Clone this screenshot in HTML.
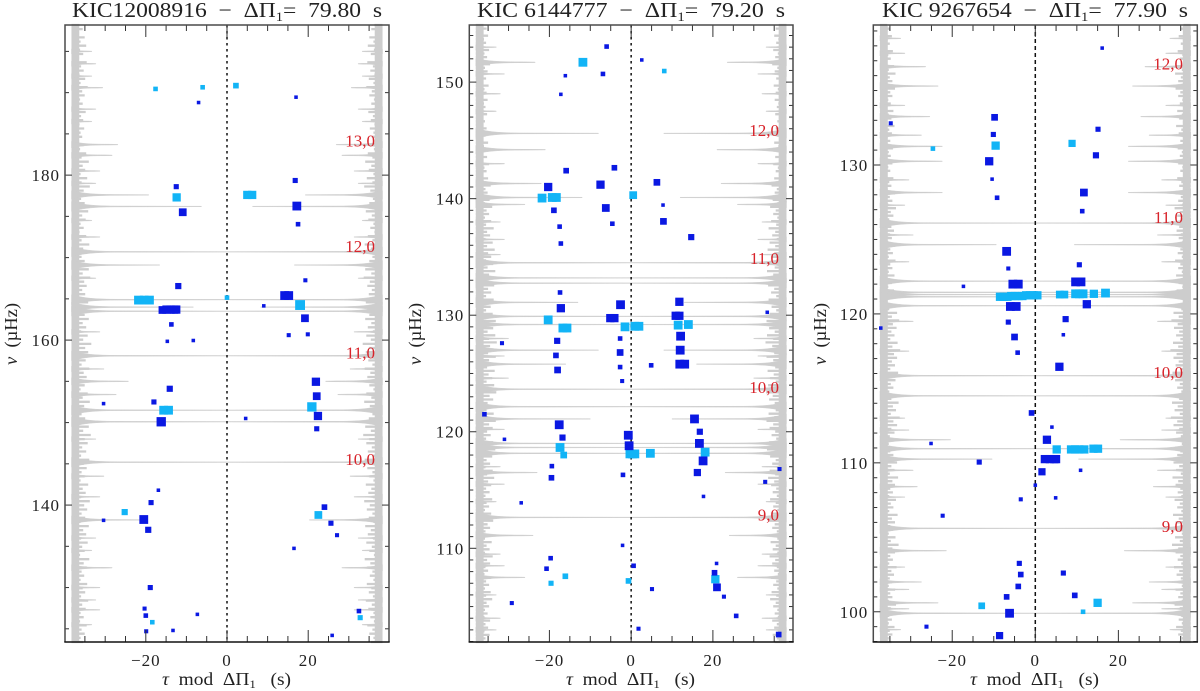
<!DOCTYPE html>
<html lang="en">
<head>
<meta charset="utf-8">
<title>Stretched period echelle diagrams</title>
<style>
html,body{margin:0;padding:0;background:#fff;width:1200px;height:691px;overflow:hidden}
svg{display:block}
text{font-family:"Liberation Serif","DejaVu Serif",serif;fill:#222}
.title{font-size:21px}
.axis-title{font-size:18px}
.tick-label{font-size:17px;letter-spacing:1px}
.order-label{font-size:17px;fill:#d8232a}
</style>
</head>
<body>
<svg id="chart" xmlns="http://www.w3.org/2000/svg" width="1200" height="691" viewBox="0 0 1200 691">
  <rect x="0" y="0" width="1200" height="691" fill="#fff"/>
  <g id="layer-a"></g>
  <g id="layer-b"></g>
  <g id="layer-c"></g>

  <text class="title" x="72" y="17" textLength="310" lengthAdjust="spacingAndGlyphs">KIC12008916&#160;&#160;−&#160;&#160;ΔΠ<tspan dy="4" font-size="13">1</tspan><tspan dy="-4">=&#160;&#160;79.80&#160;&#160;s</tspan></text>
  <text class="title" x="477" y="17" textLength="308" lengthAdjust="spacingAndGlyphs">KIC&#160;6144777&#160;&#160;−&#160;&#160;ΔΠ<tspan dy="4" font-size="13">1</tspan><tspan dy="-4">=&#160;&#160;79.20&#160;&#160;s</tspan></text>
  <text class="title" x="882" y="17" textLength="306" lengthAdjust="spacingAndGlyphs">KIC&#160;9267654&#160;&#160;−&#160;&#160;ΔΠ<tspan dy="4" font-size="13">1</tspan><tspan dy="-4">=&#160;&#160;77.90&#160;&#160;s</tspan></text>

  <text class="axis-title" x="162" y="685" textLength="129" lengthAdjust="spacingAndGlyphs"><tspan font-style="italic">τ</tspan>&#160;&#160;mod&#160;&#160;ΔΠ<tspan dy="3" font-size="12">1</tspan><tspan dy="-3">&#160;&#160;&#160;(s)</tspan></text>
  <text class="axis-title" x="566" y="685" textLength="129" lengthAdjust="spacingAndGlyphs"><tspan font-style="italic">τ</tspan>&#160;&#160;mod&#160;&#160;ΔΠ<tspan dy="3" font-size="12">1</tspan><tspan dy="-3">&#160;&#160;&#160;(s)</tspan></text>
  <text class="axis-title" x="970" y="685" textLength="129" lengthAdjust="spacingAndGlyphs"><tspan font-style="italic">τ</tspan>&#160;&#160;mod&#160;&#160;ΔΠ<tspan dy="3" font-size="12">1</tspan><tspan dy="-3">&#160;&#160;&#160;(s)</tspan></text>

  <text class="axis-title" transform="translate(17,365) rotate(-90)" textLength="62" lengthAdjust="spacingAndGlyphs"><tspan font-style="italic">ν</tspan>&#160;&#160;(µHz)</text>
  <text class="axis-title" transform="translate(421,365) rotate(-90)" textLength="62" lengthAdjust="spacingAndGlyphs"><tspan font-style="italic">ν</tspan>&#160;&#160;(µHz)</text>
  <text class="axis-title" transform="translate(826,365) rotate(-90)" textLength="62" lengthAdjust="spacingAndGlyphs"><tspan font-style="italic">ν</tspan>&#160;&#160;(µHz)</text>
</svg>

<script>
/* Shared x ticks (seconds) */
var xMajorTickValues = [-20, 0, 20];
var xMajorTickLabels = ['\u221220', '0', '20'];

/* ---------- Panel A: KIC 12008916 ---------- */
var aYTickValues = [180, 160, 140];
var aYTickLabels = ['180', '160', '140'];
var aOrderLabels = ['13,0', '12,0', '11,0', '10,0'];
var aOrderNu = [184.2, 171.4, 158.5, 145.6];

var aBlueTau = [17.0,-7.0,-12.5,16.8,-10.9,17.2,17.5,-12.0,19.3,14.2,15.2,-15.9,-14.9,-13.9,-13.0,-12.5,9.06,19.2,-13.7,15.2,19.9,-14.7,-8.3,21.9,22.1,-14.1,-18.0,-30.4,22.4,-16.2,4.6,22.1,-16.9,-18.7,24.0,-20.5,-30.4,25.6,-19.4,27.1,16.5,-18.9,-20.3,32.5,-20.0,-7.3,-19.9,-13.3,25.9];
var aBlueNu = [189.45,188.8,178.6,179.35,175.5,176.25,174.05,166.55,167.25,165.4,165.4,163.65,163.7,163.7,163.7,163.7,164.15,162.65,161.9,160.6,160.7,159.85,159.95,154.95,153.2,154.1,152.5,152.3,150.8,150.1,150.5,149.25,141.8,140.3,139.75,138.25,138.15,137.8,137.0,136.35,134.75,130.0,127.45,127.15,126.6,126.75,124.7,124.8,124.2];
var aBlueHeight = [3,3,4.5,4.5,7,8,4,5.5,3.5,8,8,7,7.5,7.5,7.5,7.5,3,7,4,3.5,3.5,3,3,7.5,7,5.5,4.5,3,7.5,8.5,3,4.5,3,4.5,5,8,3,4.5,5.5,3.5,3,4.5,3.5,4,4,3,3.5,3,3];

var aCyanTau = [-17.6,-6.0,2.2,-12.4,5.0,6.2,-21.8,-20.4,-19.1,0.0,18.0,-15.6,-14.4,20.9,-25.2,22.5,-18.4,32.8];
var aCyanNu = [190.45,190.65,190.85,177.3,177.6,177.6,164.85,164.85,164.85,165.15,164.25,151.5,151.5,151.9,139.15,138.8,125.8,126.35];
var aCyanHeight = [4,4,5,7.5,7.5,7.5,8,8,8,4,9,8,8,8.5,5.5,7,4,4.5];

var aPeakNu = [190.6,183.7,182.4,177.6,176.2,170.7,169.1,164.9,164.0,163.5,158.1,155.0,153.4,151.5,150.1,145.2,143.5,138.2,132.4,130.0,127.3,195,193.5,192,188,186.5,180.5,179,174.5,172.5,167.5,161,156.5,148,141,136,134.5,128.5,125.5];
var aPeakAmp = [7.7,11.4,10,19,32,38.3,21.7,38.3,30,38.3,38.3,14,11,38.3,38.3,38.3,8,18,10,7,7,5,6,5,6,5,7,6,5,7,6,7,8,6,7,6,5,6,5];

var aBase = [1.6,2.2,1.5,2.6,1.8,2.9,1.7,2.3,1.5,3.0,1.9,2.4,1.6,2.7,1.8,3.2,2.1,2.6,1.7,2.2,1.5,2.8,1.9,2.3,1.6,2.5,1.8,2.1,1.5,2.4,1.7,2.9,2.0,3.4,2.2,2.7,1.8,3.1,2.0,3.6,2.4,3.0,1.9,2.6,1.7,3.3,2.1,2.8,1.8,2.4,1.6,2.9,2.0,3.5,2.3,3.1,2.0,2.6,1.8,3.4,2.2,3.7,2.5,3.0,2.1,2.7,1.9,3.3,2.4,3.8,2.6,3.4,2.2,2.9,1.9,3.2,2.3,3.9,2.7,3.3,2.1,2.8,2.0,3.5,2.4,3.0,2.0,2.6,1.8,3.2,2.2,3.6,2.5,3.1,2.0,2.7,1.9,3.4,2.3,3.8,2.6,3.2,2.1,2.9,1.9,3.5,2.4,3.0,2.0,2.6,1.8,3.3,2.2,2.8,1.9,3.6,2.5,3.1,2.0,2.7,1.8,3.4,2.3,2.9,1.9,3.2,2.1,2.6,1.7,3.5,2.4,3.0,2.0,2.5,1.8,3.1,2.2,2.7,1.9,3.3,2.1,2.8,1.8,2.4,1.7,3.0,2.0,2.6,1.8,2.3];

/* ---------- Panel B: KIC 6144777 ---------- */
var bYTickValues = [150, 140, 130, 120, 110];
var bYTickLabels = ['150', '140', '130', '120', '110'];
var bOrderLabels = ['12,0', '11,0', '10,0', '9,0'];
var bOrderNu = [145.9, 134.9, 123.85, 112.9];

var bBlueTau = [-6.0,2.6,-6.9,-16.1,-17.2,-15.9,-4.1,-20.3,-7.5,6.3,-18.9,-6.2,7.8,-17.5,-4.6,7.9,14.7,-17.2,-17.4,-17.2,-2.6,11.8,-5.1,-4.1,10.9,11.8,33.3,12.1,-18.1,-2.7,-31.6,-18.4,-18.0,-2.7,-2.7,-2.2,4.9,12.0,11.9,13.1,-35.9,-31.0,-17.6,-16.8,-0.7,-0.5,15.5,16.8,16.7,17.6,16.2,-19.4,-19.5,-2.0,36.3,32.8,17.7,-26.9,-2.1,-19.7,20.9,0.6,-20.7,20.4,21.0,5.1,22.7,-29.2,25.7,1.8,36.1];
var bBlueNu = [153.05,151.9,150.7,150.55,148.95,142.4,142.65,141.0,141.2,141.4,139.0,139.2,139.45,137.6,137.85,138.05,136.7,136.15,131.95,130.6,130.9,131.15,129.75,129.75,129.95,129.95,130.25,128.2,127.8,128.0,127.6,126.55,125.3,126.8,125.55,124.35,125.7,127.0,125.8,125.8,121.5,119.35,120.6,119.5,119.7,118.8,121.1,120.0,119.0,117.5,116.5,117.05,116.05,116.3,116.8,115.7,114.45,113.9,110.25,109.15,108.7,108.5,108.25,107.9,106.65,106.5,105.85,105.3,104.2,103.1,102.6];
var bBlueHeight = [4,3,4,3,3,5,5,7.5,7.5,6,5,7,3,4,4,6,5.5,4,4,7.5,8,7.5,7.5,7.5,7.5,7.5,3,8,5.5,4,3.5,5,6,6,4,3.5,4,8,8,8,4,3,8,5.5,8,8,8,5.5,8,8,6.5,4,5,4,3.5,3.5,3,3,3,4,3,4,4,5,7,3.5,3.5,3.5,4,3.5,5];

var bCyanTau = [-11.8,8.1,-21.8,-19.3,-18.3,0.5,-20.3,-16.7,-15.7,-1.5,0.9,1.9,11.5,14.0,-17.4,-16.5,-0.3,0.3,0.9,4.7,18.1,-16.1,-19.6,-0.65,20.6];
var bCyanNu = [151.7,150.95,140.05,140.1,140.1,140.3,129.6,128.9,128.9,129.0,129.05,129.05,129.15,129.2,118.65,118.0,118.1,118.1,118.1,118.15,118.25,107.6,107.0,107.2,107.35];
var bCyanHeight = [8,4,8,8,8,7,8,8,8,8,8,8,8,8,8,6,8,8,8,8,8,5,4.5,5,7.5];

var bPeakNu = [151.7,150.7,145.6,144.2,141.3,140.1,139.5,134.5,133.2,132.75,131.1,129.9,129.2,127.0,125.8,123.65,122.15,121.1,119.0,118.65,118.15,116.5,112.65,111.1,107.5,153,149,147.5,143,138,136.5,135.2,128,126.5,124.6,120.2,117,115.5,114,109.5,108.5,106,104,103];
var bPeakAmp = [14.5,7,30,17,16,26,12,38,38,38,25,38,38,30,22,38,38,28,38,38,38,15,38,14,12,5,6,5,7,6,7,6,8,7,8,7,6,7,5,6,7,5,6,5];

var bBase = [1.5,2.1,1.4,2.4,1.6,2.0,1.4,2.6,1.7,2.2,1.5,2.8,1.8,2.3,1.5,2.0,1.4,2.5,1.7,2.1,1.5,2.3,1.6,1.9,1.4,2.2,1.5,1.8,1.4,2.1,1.5,1.9,1.3,2.4,1.6,2.0,1.4,2.2,1.5,2.6,1.7,2.1,1.5,2.4,1.6,2.9,1.9,2.3,1.6,2.7,1.8,3.2,2.1,2.6,1.8,3.0,2.0,3.5,2.2,2.8,1.9,3.3,2.2,3.7,2.4,3.0,2.0,3.4,2.3,3.8,2.6,3.2,2.1,3.6,2.4,3.0,2.0,3.5,2.3,2.9,2.0,3.3,2.2,3.9,2.6,3.4,2.3,3.8,2.6,4.1,2.8,3.5,2.4,3.9,2.6,3.3,2.2,3.7,2.5,3.2,2.1,3.6,2.4,4.0,2.7,3.4,2.3,3.0,2.1,3.5,2.4,3.9,2.6,3.3,2.2,2.9,2.0,3.4,2.3,3.8,2.5,3.2,2.1,2.8,1.9,3.3,2.2,3.6,2.4,3.0,2.0,2.7,1.9,3.2,2.1,2.6,1.8,3.0,2.0,3.4,2.3,2.8,1.9,2.5,1.8,3.1,2.1,2.7,1.8,3.3,2.2,2.8,1.9,2.4,1.7,3.0,2.0,2.6,1.8,2.9,2.0,3.2,2.1,2.6,1.8,2.3,1.7,2.8,1.9,2.4,1.7,2.7,1.9,2.3];

/* ---------- Panel C: KIC 9267654 ---------- */
var cYTickValues = [130, 120, 110, 100];
var cYTickLabels = ['130', '120', '110', '100'];
var cOrderLabels = ['12,0', '11,0', '10,0', '9,0'];
var cOrderNu = [136.8, 126.5, 116.1, 105.75];

var cBlueTau = [16.1,-34.8,-9.8,15.1,-10.1,14.6,-11.1,-10.4,-9.2,11.7,11.3,-6.9,-6.5,10.6,-17.3,-5.4,-4.1,9.7,11.0,12.4,-6.0,-4.6,-6.5,7.3,-37.2,6.75,-5.0,-4.25,5.8,-0.9,4.0,2.8,-25.1,2.3,3.5,4.6,5.0,-13.5,10.9,1.6,0.0,4.9,-3.5,-22.3,-3.85,-3.5,6.75,-4.1,-6.9,9.5,-6.2,-26.2,-8.6];
var cBlueNu = [137.85,132.8,133.2,132.4,132.05,130.65,130.25,129.05,127.8,128.15,126.9,124.2,123.05,123.3,121.85,122.0,122.0,122.15,122.15,120.65,120.5,120.5,119.45,119.65,119.05,118.6,118.45,117.4,116.45,113.35,112.4,111.55,111.3,110.25,110.25,110.25,110.25,110.05,109.5,109.4,108.5,107.65,107.55,106.45,103.25,102.5,102.6,101.7,101.0,101.1,99.9,99.0,98.4];
var cBlueHeight = [3,3.5,6,4.5,4.5,5.5,7.5,3,4,7,4,8,3.5,4.5,3,8,8,8,8,7.5,8,8,4.5,5.5,3,3,6,4,7.5,5,3,7.5,3,7.5,7.5,7.5,7.5,4.5,3,6.5,3,3,3.5,3.5,4.5,5,4.5,5,5,5,8,3.5,6.5];

var cCyanTau = [-24.65,-9.55,8.85,-8.5,-7.6,-6.7,-5.8,-4.9,-4.0,-3.1,-2.2,-1.3,-0.4,0.5,5.9,7.0,9.7,10.6,11.5,14.1,16.9,5.15,8.6,9.6,10.6,11.8,14.0,15.1,-12.9,15.0,11.5];
var cCyanNu = [131.1,131.3,131.45,121.15,121.15,121.15,121.2,121.2,121.2,121.2,121.25,121.25,121.25,121.25,121.3,121.3,121.35,121.35,121.35,121.35,121.4,110.9,110.9,110.9,110.9,110.9,110.95,110.95,100.4,100.6,100.0];
var cCyanHeight = [4,7.5,6.5,7.5,7.5,7.5,7.5,7.5,7.5,7.5,7.5,7.5,7.5,7.5,7,7,8,8,8,7.5,8,7.5,7.5,7.5,7.5,7.5,7.5,7.5,6,7.5,4];

var cPeakNu = [136.6,135.3,133.25,132.0,131.25,130.25,128.15,126.1,124.65,122.2,121.45,121.3,121.15,120.55,115.85,114.5,111.55,110.95,110.25,108.4,105.6,104.1,102.0,100.6,99.9,138.5,137.5,134,129,127.3,125.3,123.5,119.5,117.5,113,112.2,109.5,107.7,103,101.5,100.2,98.8];
var cPeakAmp = [11,14,12,10,15,15,15,37.4,28,37.4,37.4,37.4,37.4,37.4,37.4,37.4,17,37.4,27,9,37.4,16,10,14,37.4,5,6,6,7,6,8,7,8,7,6,7,8,6,6,7,7,5];

var cBase = [1.4,2.0,1.3,2.3,1.5,1.9,1.3,2.5,1.6,2.1,1.4,2.7,1.7,3.0,1.9,2.4,1.6,2.9,2.0,2.4,1.6,2.1,1.4,2.6,1.7,2.2,1.5,2.8,1.8,2.3,1.5,2.0,1.4,2.5,1.7,2.1,1.5,2.4,1.6,2.0,1.4,2.6,1.8,2.2,1.5,2.9,1.9,2.4,1.6,3.1,2.1,2.6,1.8,3.2,2.2,2.7,1.9,2.3,1.6,2.9,2.0,2.5,1.7,3.0,2.0,2.4,1.7,2.8,1.9,2.3,1.6,2.7,1.8,2.2,1.5,2.6,1.8,3.3,2.3,3.7,2.5,3.2,2.2,2.8,2.0,3.4,2.4,3.9,2.7,3.3,2.3,2.9,2.0,3.5,2.4,3.0,2.1,2.6,1.8,3.2,2.2,3.6,2.5,3.1,2.1,3.8,2.6,3.3,2.2,2.8,1.9,2.4,1.7,3.0,2.0,2.6,1.8,3.3,2.2,2.8,1.9,3.5,2.4,2.9,2.0,2.5,1.8,3.1,2.1,2.6,1.8,3.4,2.3,2.9,2.0,2.5,1.7,3.0,2.1,3.6,2.4,2.9,2.0,2.5,1.8,3.2,2.2,2.7,1.9,2.3,1.7,2.9,2.0,2.4,1.7,3.1,2.1,2.6,1.8,2.3,1.7,2.8,1.9,2.4,1.7,2.2];

/* ---------- Drawing ---------- */
var SVG_NS = 'http://www.w3.org/2000/svg';
var BLUE = '#0a18e2';
var CYAN = '#12b4f6';
var GREY = '#cdcdcd';
var SPECTRUM_GAIN = 1.25;

function make(tag, parent, attrs) {
  var el = document.createElementNS(SVG_NS, tag);
  for (var k in attrs) el.setAttribute(k, attrs[k]);
  parent.appendChild(el);
  return el;
}

function markerPx(height) { return height * 1.05 + 0.4; }

function drawPanel(p) {
  var layer = document.getElementById(p.layer);
  var plotW = p.right - p.left;
  var plotH = p.bottom - p.top;
  function xs(tau) { return p.left + (tau + p.tauMax) / (2 * p.tauMax) * plotW; }
  function ys(nu) { return p.top + (p.nuMax - nu) / (p.nuMax - p.nuMin) * plotH; }

  /* mirrored background spectrum: continuum comb */
  [-1, 1].forEach(function (side) {
    var edge = side * p.edgeTau;
    var n = p.base.length;
    var d = '';
    for (var i = 0; i < n; i++) {
      var nu = p.nuMax - i * (p.nuMax - p.nuMin) / (n - 1);
      d += 'M' + xs(edge).toFixed(1) + ' ' + ys(nu).toFixed(1) + 'H' + xs(edge - side * p.base[i] * SPECTRUM_GAIN).toFixed(1);
    }
    var comb = make('path', layer, { d: d, fill: 'none', stroke: GREY, 'stroke-width': 2.3 });
    
    
    var core = make('line', layer, { x1: xs(edge - side * 0.95), x2: xs(edge - side * 0.95), y1: p.top + 1, y2: p.bottom - 1, stroke: GREY, 'stroke-width': 7.8 });
    
    
  });

  /* mirrored background spectrum: sharp peaks */
  p.peakNu.forEach(function (nu, i) {
    [-1, 1].forEach(function (side) {
      var edge = side * p.edgeTau;
      var x0 = xs(edge);
      var tip = xs(edge - side * p.peakAmp[i]);
      var y = ys(nu);
      var s = -side;
      var ampPx = Math.abs(tip - x0);
      var flare = Math.min(48, ampPx * 0.8);
      var w = Math.min(5, 2 + ampPx * 0.03);
      var t = 0.45;
      var d = 'M' + x0 + ' ' + (y - w) +
        'C' + (x0 + s * flare * 0.25) + ' ' + (y - w * 0.35) + ' ' + (x0 + s * flare * 0.45) + ' ' + (y - t) + ' ' + (x0 + s * flare) + ' ' + (y - t) +
        'L' + tip + ' ' + (y - t * 0.6) + 'L' + tip + ' ' + (y + t * 0.6) + 'L' + (x0 + s * flare) + ' ' + (y + t) +
        'C' + (x0 + s * flare * 0.45) + ' ' + (y + t) + ' ' + (x0 + s * flare * 0.25) + ' ' + (y + w * 0.35) + ' ' + x0 + ' ' + (y + w) + 'Z';
      var peak = make('path', layer, { d: d, fill: GREY, stroke: GREY, 'stroke-width': 0.4 });
      
      
    });
  });

  /* dotted zero line */
  var zero = make('line', layer, { x1: xs(0), x2: xs(0), y1: p.top, y2: p.bottom, stroke: '#111', 'stroke-width': 1.5, 'stroke-dasharray': p.dash });
  
  

  /* markers */
  function series(tau, nu, height, color, name) {
    tau.forEach(function (t, i) {
      var size = markerPx(height[i]);
      var sq = make('rect', layer, { x: xs(t) - size / 2, y: ys(nu[i]) - size / 2, width: size, height: size, fill: color });
      
      
    });
  }
  series(p.cyanTau, p.cyanNu, p.cyanHeight, CYAN, 'mode-marker-cyan');
  series(p.blueTau, p.blueNu, p.blueHeight, BLUE, 'mode-marker-blue');

  /* order labels */
  p.orderLabels.forEach(function (label, i) {
    var t = make('text', layer, { x: p.orderX, y: ys(p.orderNu[i]) + 6, 'text-anchor': 'end', 'class': 'order-label' });
    t.textContent = label;
    
    
  });

  /* ticks */
  function tick(x1, y1, x2, y2, name) {
    var l = make('line', layer, { x1: x1, y1: y1, x2: x2, y2: y2, stroke: '#333', 'stroke-width': 1 });
    
    
  }
  var v;
  for (v = -35; v <= 35; v += 5) {
    var major = v % 20 === 0;
    var len = major ? 12 : 6;
    tick(xs(v), p.top, xs(v), p.top + len, 'x-tick-top');
    tick(xs(v), p.bottom, xs(v), p.bottom - len, 'x-tick-bottom');
  }
  for (v = Math.ceil(p.nuMin); v <= p.nuMax; v++) {
    if (v % p.yMinor !== 0) continue;
    var ylen = v % p.yMajor === 0 ? 7 : 4;
    tick(p.left, ys(v), p.left + ylen, ys(v), 'y-tick-left');
    tick(p.right, ys(v), p.right - ylen, ys(v), 'y-tick-right');
  }

  /* tick labels */
  xMajorTickValues.forEach(function (val, i) {
    var t = make('text', layer, { x: xs(val), y: 666, 'text-anchor': 'middle', 'class': 'tick-label' });
    t.textContent = xMajorTickLabels[i];
    
    
  });
  p.yTickValues.forEach(function (val, i) {
    var t = make('text', layer, { x: p.left - 5, y: ys(val) + 6, 'text-anchor': 'end', 'class': 'tick-label' });
    t.textContent = p.yTickLabels[i];
    
    
  });

  /* frame */
  var frame = make('path', layer, {
    d: 'M' + p.left + ' ' + p.bottom + 'V' + p.top + 'H' + p.right + 'V' + p.bottom,
    fill: 'none', stroke: '#4a4a4a', 'stroke-width': 1.5
  });
  
  
  var bottomAxis = make('line', layer, { x1: p.left - 0.7, x2: p.right + 0.7, y1: p.bottom, y2: p.bottom, stroke: '#111', 'stroke-width': 1.6 });
  
  
}

drawPanel({
  layer: 'layer-a', left: 65, right: 389, top: 25, bottom: 642,
  tauMax: 39.9, nuMin: 123.4, nuMax: 198.2, edgeTau: 38.3, yMinor: 5, yMajor: 20, orderX: 375, dash: '2.5 3.5',
  yTickValues: aYTickValues, yTickLabels: aYTickLabels, orderLabels: aOrderLabels, orderNu: aOrderNu,
  blueTau: aBlueTau, blueNu: aBlueNu, blueHeight: aBlueHeight,
  cyanTau: aCyanTau, cyanNu: aCyanNu, cyanHeight: aCyanHeight,
  peakNu: aPeakNu, peakAmp: aPeakAmp, base: aBase
});
drawPanel({
  layer: 'layer-b', left: 469.3, right: 793, top: 25, bottom: 642,
  tauMax: 39.6, nuMin: 101.96, nuMax: 154.9, edgeTau: 38, yMinor: 1, yMajor: 10, orderX: 779, dash: '2.5 3.5',
  yTickValues: bYTickValues, yTickLabels: bYTickLabels, orderLabels: bOrderLabels, orderNu: bOrderNu,
  blueTau: bBlueTau, blueNu: bBlueNu, blueHeight: bBlueHeight,
  cyanTau: bCyanTau, cyanNu: bCyanNu, cyanHeight: bCyanHeight,
  peakNu: bPeakNu, peakAmp: bPeakAmp, base: bBase
});
drawPanel({
  layer: 'layer-c', left: 873.3, right: 1197.3, top: 25, bottom: 642,
  tauMax: 39, nuMin: 97.97, nuMax: 139.4, edgeTau: 37.4, yMinor: 1, yMajor: 10, orderX: 1183, dash: '4 3',
  yTickValues: cYTickValues, yTickLabels: cYTickLabels, orderLabels: cOrderLabels, orderNu: cOrderNu,
  blueTau: cBlueTau, blueNu: cBlueNu, blueHeight: cBlueHeight,
  cyanTau: cCyanTau, cyanNu: cCyanNu, cyanHeight: cCyanHeight,
  peakNu: cPeakNu, peakAmp: cPeakAmp, base: cBase
});
</script>
</body>
</html>
